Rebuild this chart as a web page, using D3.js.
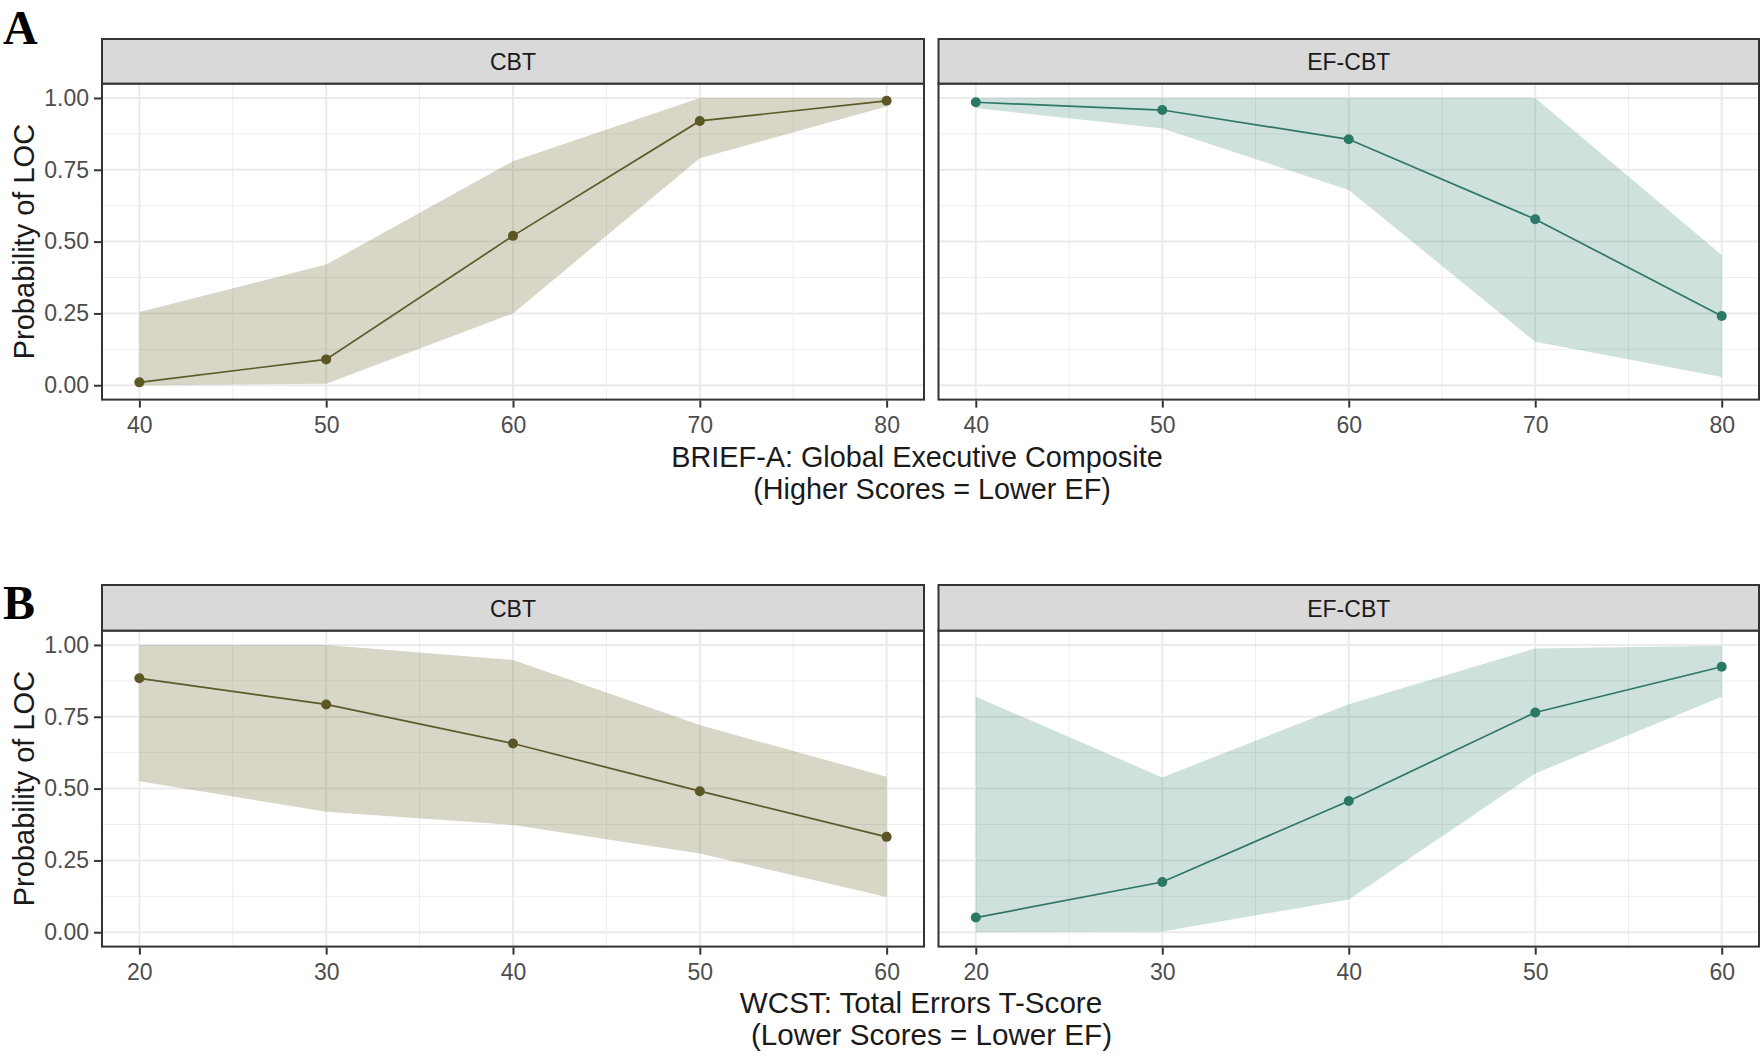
<!DOCTYPE html>
<html><head><meta charset="utf-8">
<script src="https://cdn.jsdelivr.net/npm/d3@7"></script>
<style>body{margin:0;background:#fff}svg{display:block}</style>
</head><body>
<svg id="chart" width="1764" height="1056"></svg>
<script>
// ---- data ----
const groups = ["CBT", "EF-CBT"];
const briefX = [40, 50, 60, 70, 80];
const wcstX = [20, 30, 40, 50, 60];
const yTicks = [0, 0.25, 0.5, 0.75, 1];
const yTickLabels = ["0.00", "0.25", "0.50", "0.75", "1.00"];

const briefCBT_fit = [0.01, 0.09, 0.52, 0.92, 0.99];
const briefCBT_lo  = [0.00, 0.005, 0.25, 0.79, 0.97];
const briefCBT_hi  = [0.255, 0.42, 0.78, 1.00, 1.00];

const briefEF_fit = [0.985, 0.958, 0.856, 0.578, 0.241];
const briefEF_lo  = [0.965, 0.894, 0.68, 0.151, 0.029];
const briefEF_hi  = [1.00, 1.00, 1.00, 1.00, 0.453];

const wcstCBT_fit = [0.884, 0.793, 0.657, 0.491, 0.332];
const wcstCBT_lo  = [0.526, 0.419, 0.373, 0.274, 0.123];
const wcstCBT_hi  = [1.00, 1.00, 0.948, 0.721, 0.541];

const wcstEF_fit = [0.051, 0.175, 0.457, 0.765, 0.924];
const wcstEF_lo  = [0.00, 0.003, 0.114, 0.553, 0.82];
const wcstEF_hi  = [0.82, 0.539, 0.794, 0.988, 0.997];

const rows = [
  {label: "A", x: briefX, xTitle: ["BRIEF-A: Global Executive Composite", "(Higher Scores = Lower EF)"],
   series: [[briefCBT_fit, briefCBT_lo, briefCBT_hi], [briefEF_fit, briefEF_lo, briefEF_hi]]},
  {label: "B", x: wcstX, xTitle: ["WCST: Total Errors T-Score", "(Lower Scores = Lower EF)"],
   series: [[wcstCBT_fit, wcstCBT_lo, wcstCBT_hi], [wcstEF_fit, wcstEF_lo, wcstEF_hi]]}
];

const colors = {
  "CBT":    {line: "#5d5a2a", point: "#5a5625", fill: "#7b7647"},
  "EF-CBT": {line: "#2f7767", point: "#2c7866", fill: "#33806f"}
};
const fillOpacity = {"CBT": 0.3, "EF-CBT": 0.24};

// ---- layout ----
const rowLayout = [
  {stripTop: 39, plotTop: 83.6, plotBottom: 399.6, labelBase: 44, title1: 467, title2: 499, t1x: 917, t2x: 932, tfs: 28.8},
  {stripTop: 585, plotTop: 630.6, plotBottom: 946.6, labelBase: 619, title1: 1013, title2: 1045, t1x: 921, t2x: 931.5, tfs: 29.6}
];
const colLayout = [{left: 102, right: 924}, {left: 938.5, right: 1759}];

const svg = d3.select("#chart");
const font = "'Liberation Sans', Arial, sans-serif";

rows.forEach((row, ri) => {
  const L = rowLayout[ri];
  const xmin = d3.min(row.x), xmax = d3.max(row.x);
  const xpad = (xmax - xmin) * 0.05;
  const y = d3.scaleLinear().domain([-0.05, 1.05]).range([L.plotBottom, L.plotTop]);

  // panel label
  svg.append("text").attr("x", 3).attr("y", L.labelBase)
    .attr("font-family", "'Liberation Serif', 'Times New Roman', serif")
    .attr("font-weight", "bold").attr("font-size", 48).attr("fill", "#000")
    .text(row.label);

  groups.forEach((grp, gi) => {
    const C = colLayout[gi];
    const x = d3.scaleLinear().domain([xmin - xpad, xmax + xpad]).range([C.left, C.right]);
    const g = svg.append("g");
    const xMinor = d3.range(xmin + 5, xmax, 10);
    const yMinor = [0.125, 0.375, 0.625, 0.875];

    // background grid
    g.selectAll(".ymin").data(yMinor).join("line")
      .attr("x1", C.left).attr("x2", C.right).attr("y1", d => y(d)).attr("y2", d => y(d))
      .attr("stroke", "#ededed").attr("stroke-width", 1);
    g.selectAll(".xmin").data(xMinor).join("line")
      .attr("y1", L.plotTop).attr("y2", L.plotBottom).attr("x1", d => x(d)).attr("x2", d => x(d))
      .attr("stroke", "#ededed").attr("stroke-width", 1);
    g.selectAll(".ymaj").data(yTicks).join("line")
      .attr("x1", C.left).attr("x2", C.right).attr("y1", d => y(d)).attr("y2", d => y(d))
      .attr("stroke", "#ebebeb").attr("stroke-width", 2);
    g.selectAll(".xmaj").data(row.x).join("line")
      .attr("y1", L.plotTop).attr("y2", L.plotBottom).attr("x1", d => x(d)).attr("x2", d => x(d))
      .attr("stroke", "#ebebeb").attr("stroke-width", 2);

    const [fit, lo, hi] = row.series[gi];
    const pts = row.x.map((xv, i) => ({x: xv, fit: fit[i], lo: lo[i], hi: hi[i]}));
    const col = colors[grp];

    g.append("path").datum(pts)
      .attr("d", d3.area().x(d => x(d.x)).y0(d => y(d.lo)).y1(d => y(d.hi)))
      .attr("fill", col.fill).attr("fill-opacity", fillOpacity[grp]);
    g.append("path").datum(pts)
      .attr("d", d3.line().x(d => x(d.x)).y(d => y(d.fit)))
      .attr("fill", "none").attr("stroke", col.line).attr("stroke-width", 1.7);
    g.selectAll("circle").data(pts).join("circle")
      .attr("cx", d => x(d.x)).attr("cy", d => y(d.fit)).attr("r", 5)
      .attr("fill", col.point);

    // panel border
    g.append("rect").attr("x", C.left).attr("y", L.plotTop)
      .attr("width", C.right - C.left).attr("height", L.plotBottom - L.plotTop)
      .attr("fill", "none").attr("stroke", "#333333").attr("stroke-width", 2);
    // strip
    g.append("rect").attr("x", C.left).attr("y", L.stripTop)
      .attr("width", C.right - C.left).attr("height", L.plotTop - L.stripTop)
      .attr("fill", "#d9d9d9").attr("stroke", "#333333").attr("stroke-width", 2);
    g.append("text").attr("x", (C.left + C.right) / 2).attr("y", (L.stripTop + L.plotTop) / 2 + 8.8)
      .attr("text-anchor", "middle").attr("font-family", font).attr("font-size", 23)
      .attr("fill", "#1a1a1a").text(grp);

    // x axis
    const xAxis = d3.axisBottom(x).tickValues(row.x).tickSize(7).tickPadding(9).tickFormat(d3.format("d"));
    const xa = g.append("g").attr("transform", `translate(0,${L.plotBottom + 1})`).call(xAxis);
    xa.select(".domain").remove();
    xa.selectAll(".tick line").attr("stroke", "#333333").attr("stroke-width", 2);
    xa.selectAll(".tick text").attr("font-family", font).attr("font-size", 23).attr("fill", "#4d4d4d");

    // y axis (left panel only)
    if (gi === 0) {
      const yAxis = d3.axisLeft(y).tickValues(yTicks).tickSize(7).tickPadding(5)
        .tickFormat((d, i) => yTickLabels[i]);
      const ya = g.append("g").attr("transform", `translate(${C.left - 1},0)`).call(yAxis);
      ya.select(".domain").remove();
      ya.selectAll(".tick line").attr("stroke", "#333333").attr("stroke-width", 2);
      ya.selectAll(".tick text").attr("font-family", font).attr("font-size", 23).attr("fill", "#4d4d4d");
    }
  });

  // y title
  const yc = (y(0) + y(1)) / 2;
  svg.append("text").attr("transform", `translate(34,${yc}) rotate(-90)`)
    .attr("text-anchor", "middle").attr("font-family", font).attr("font-size", 29)
    .attr("fill", "#1a1a1a").text("Probability of LOC");

  // x title (two lines)
  svg.append("text").attr("x", L.t1x).attr("y", L.title1).attr("text-anchor", "middle")
    .attr("font-family", font).attr("font-size", L.tfs).attr("fill", "#1a1a1a").text(row.xTitle[0]);
  svg.append("text").attr("x", L.t2x).attr("y", L.title2).attr("text-anchor", "middle")
    .attr("font-family", font).attr("font-size", L.tfs).attr("fill", "#1a1a1a").text(row.xTitle[1]);
});
</script>
</body></html>
